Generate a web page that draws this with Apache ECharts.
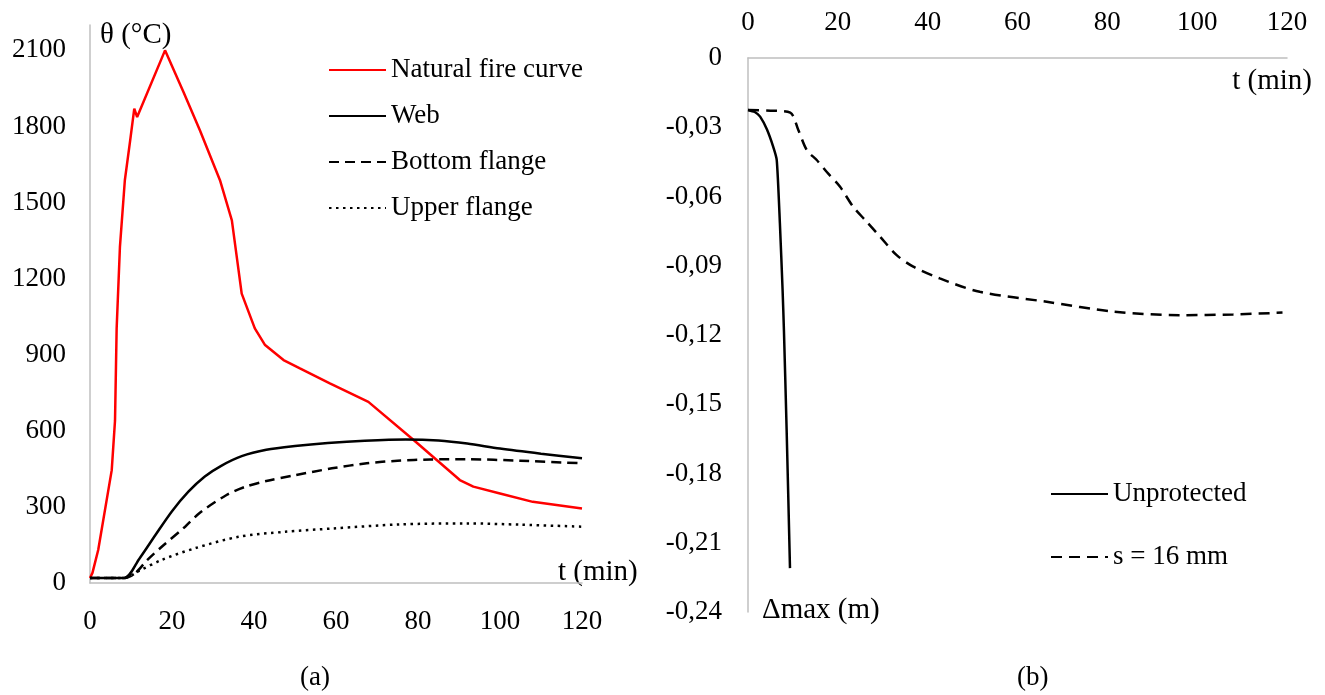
<!DOCTYPE html>
<html>
<head>
<meta charset="utf-8">
<script src="https://cdn.jsdelivr.net/npm/echarts@6/dist/echarts.min.js"></script>
<style>html,body{margin:0;padding:0;background:#fff;}#c{width:1325px;height:695px;}</style>
</head>
<body>
<div id="c"></div>
<script>
// ---- Data: (a) temperatures ----
var fireT = [0, 0.6, 2, 5.3, 6.1, 6.5, 7.3, 8.5, 9.8, 10.8, 11.5, 18.3, 22.8, 26.8, 31.7, 34.6, 37, 40.2, 42.7, 47.2, 51.2, 58.5, 67.9, 79, 90.2, 93.5, 100, 108, 120];
var fireV = [20, 40, 130, 445, 640, 1004, 1325, 1588, 1745, 1870, 1837, 2100, 1936, 1785, 1588, 1430, 1141, 1004, 938, 879, 846, 787, 714, 563, 406, 380, 353, 320, 294];
var webT = [0, 8.3, 12, 16, 20, 24, 28, 32, 37, 43, 50, 58, 67, 77, 85, 92, 100, 110, 120];
var webV = [20, 20, 95, 190, 283, 360, 420, 462, 500, 525, 540, 552, 561, 566, 562, 550, 530, 510, 492];
var bfT = [0, 8.5, 11, 14, 17.5, 23.2, 26.8, 33.3, 38, 43, 50, 59, 67.5, 75, 83, 92, 105, 120];
var bfV = [20, 20, 38, 91, 143, 222, 277, 347, 380, 402, 425, 452, 472, 482, 487, 488, 482, 472];
var ufT = [0, 8.5, 12, 17.5, 25.6, 36.2, 47.6, 59.3, 75.6, 92, 105, 120];
var ufV = [20, 20, 48, 91, 137, 182, 202, 215, 231, 235, 230, 222];
// ---- Data: (b) max deflection ----
var unpT = [0, 1.5, 2.7, 4.2, 5.6, 6.4, 7.1, 7.7, 8.0, 8.6, 9.35];
var unpV = [-0.0225, -0.0234, -0.0254, -0.0309, -0.0384, -0.0442, -0.0716, -0.1005, -0.118, -0.161, -0.221];
var s16T = [0, 5, 9.4, 11.2, 13.1, 15.3, 17.5, 20.5, 23.4, 26.4, 29.4, 33.1, 36.8, 42.7, 51.6, 66.5, 81.4, 96.2, 108, 119];
var s16V = [-0.0225, -0.0228, -0.0237, -0.0312, -0.0399, -0.0442, -0.0493, -0.0558, -0.0644, -0.0709, -0.0774, -0.0854, -0.0904, -0.0955, -0.1013, -0.1056, -0.1099, -0.1114, -0.1111, -0.1103];
// ---- Labels ----
var namesA = ['Natural fire curve', 'Web', 'Bottom flange', 'Upper flange'];
var namesB = ['Unprotected', 's = 16 mm'];

function pairs(t, v) { return t.map(function (x, i) { return [x, v[i]]; }); }

var FONT = '"Liberation Serif","Times New Roman",serif';
var FS = 27;
var NFS = 29;
var txt = { fontFamily: FONT, fontSize: FS, color: '#000' };
var ntxt = { fontFamily: FONT, fontSize: NFS, color: '#000' };
var axLine = { show: true, lineStyle: { color: '#bfbfbf', width: 1.5 } };

var chart = echarts.init(document.getElementById('c'));
chart.setOption({
  animation: false,
  backgroundColor: '#fff',
  grid: [
    { left: 90, top: 25, width: 492, height: 558 },
    { left: 748, top: 58, width: 539, height: 554 }
  ],
  xAxis: [
    { type: 'value', gridIndex: 0, min: 0, max: 120, interval: 20,
      axisLine: axLine, axisTick: { show: false }, splitLine: { show: false },
      axisLabel: Object.assign({ margin: 25 }, txt),
      name: 't (min)', nameLocation: 'end', nameGap: -24,
      nameTextStyle: Object.assign({ align: 'left', verticalAlign: 'bottom', lineHeight: 22 }, ntxt) },
    { type: 'value', gridIndex: 1, min: 0, max: 120, interval: 20, position: 'top',
      axisLine: axLine, axisTick: { show: false }, splitLine: { show: false },
      axisLabel: Object.assign({ margin: 22 }, txt),
      name: 't (min)', nameLocation: 'end', nameGap: 25,
      nameTextStyle: Object.assign({ align: 'right', verticalAlign: 'top', padding: [9, 0, 0, 0] }, ntxt) }
  ],
  yAxis: [
    { type: 'value', gridIndex: 0, min: 0, max: 2200, interval: 300,
      axisLine: axLine, axisTick: { show: false }, splitLine: { show: false },
      axisLabel: Object.assign({ margin: 24, showMaxLabel: false, formatter: function (v) { return String(v); } }, txt),
      name: 'θ (°C)', nameLocation: 'end', nameGap: -10,
      nameTextStyle: Object.assign({ align: 'left', verticalAlign: 'middle', padding: [0, 0, 0, 10] }, ntxt) },
    { type: 'value', gridIndex: 1, min: -0.24, max: 0, interval: 0.03,
      axisLine: axLine, axisTick: { show: false }, splitLine: { show: false },
      axisLabel: Object.assign({ margin: 26, formatter: function (v) {
        if (Math.abs(v) < 1e-9) return '0';
        return v.toFixed(2).replace('.', ',');
      } }, txt),
      name: 'Δmax (m)', nameLocation: 'start', nameGap: -2,
      nameTextStyle: Object.assign({ align: 'left', verticalAlign: 'middle', padding: [0, 0, 0, 14] }, ntxt) }
  ],
  legend: [
    { data: namesA, orient: 'vertical', left: 323, top: 50, itemWidth: 57, itemHeight: 14, itemGap: 16,
      itemStyle: { opacity: 0 },
      textStyle: Object.assign({ lineHeight: 30 }, txt) },
    { data: namesB, orient: 'vertical', left: 1045, top: 474, itemWidth: 57, itemHeight: 14, itemGap: 33,
      itemStyle: { opacity: 0 },
      textStyle: Object.assign({ lineHeight: 30 }, txt) }
  ],
  graphic: [
    { type: 'text', left: 300, top: 664, style: { text: '(a)', font: FS + 'px ' + FONT, fill: '#000' } },
    { type: 'text', left: 1017, top: 664, style: { text: '(b)', font: FS + 'px ' + FONT, fill: '#000' } }
  ],
  series: [
    { name: namesA[0], type: 'line', xAxisIndex: 0, yAxisIndex: 0, data: pairs(fireT, fireV),
      symbol: 'none', lineStyle: { color: '#ff0000', width: 2.5 }, itemStyle: { color: '#ff0000' } },
    { name: namesA[1], type: 'line', xAxisIndex: 0, yAxisIndex: 0, data: pairs(webT, webV), smooth: 0.3,
      symbol: 'none', lineStyle: { color: '#000', width: 2.5 }, itemStyle: { color: '#000' } },
    { name: namesA[2], type: 'line', xAxisIndex: 0, yAxisIndex: 0, data: pairs(bfT, bfV), smooth: 0.3,
      symbol: 'none', lineStyle: { color: '#000', width: 2.5, type: [10, 6] }, itemStyle: { color: '#000' } },
    { name: namesA[3], type: 'line', xAxisIndex: 0, yAxisIndex: 0, data: pairs(ufT, ufV), smooth: 0.3,
      symbol: 'none', lineStyle: { color: '#000', width: 2.5, type: [2.5, 4.5] }, itemStyle: { color: '#000' } },
    { name: namesB[0], type: 'line', xAxisIndex: 1, yAxisIndex: 1, data: pairs(unpT, unpV), smooth: 0.2,
      symbol: 'none', lineStyle: { color: '#000', width: 2.5 }, itemStyle: { color: '#000' } },
    { name: namesB[1], type: 'line', xAxisIndex: 1, yAxisIndex: 1, data: pairs(s16T, s16V), smooth: 0.3,
      symbol: 'none', lineStyle: { color: '#000', width: 2.5, type: [11, 7] }, itemStyle: { color: '#000' } }
  ]
});
</script>
</body>
</html>
